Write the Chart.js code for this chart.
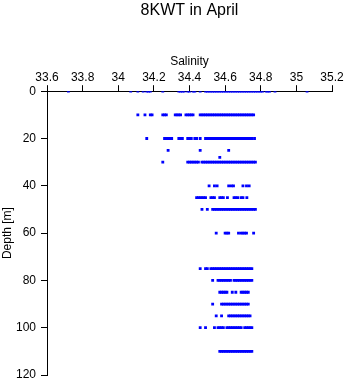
<!DOCTYPE html>
<html>
<head>
<meta charset="utf-8">
<title>8KWT in April</title>
<script src="https://cdn.jsdelivr.net/npm/chart.js@4.4.1/dist/chart.umd.min.js"></script>
<style>
  body { margin: 0; background: #fff; }
  canvas { display: block; }
</style>
</head>
<body>
<canvas id="chart" width="346" height="384"></canvas>
<script>
// depth levels [m] and the salinity readings taken at each of them
const depths = [0, 10, 20, 25, 28, 30, 40, 45, 50, 60, 75, 80, 85, 90, 95, 100, 110];

const sal0 = [33.72, 34.07, 34.11, 34.14, 34.16, 34.17, 34.18, 34.25, 34.34, 34.35, 34.36, 34.37, 34.39, 34.40,
    34.42, 34.43, 34.46, 34.49, 34.50, 34.51, 34.52, 34.53, 34.54, 34.55, 34.56, 34.57, 34.58, 34.59, 34.60,
    34.61, 34.62, 34.63, 34.64, 34.65, 34.66, 34.67, 34.68, 34.69, 34.70, 34.71, 34.72, 34.73, 34.74, 34.75,
    34.76, 34.77, 34.78, 34.79, 34.80, 34.81, 34.83, 34.84, 34.85, 34.88, 35.06];
const sal10 = [34.11, 34.15, 34.18, 34.19, 34.25, 34.26, 34.27, 34.32, 34.33, 34.34, 34.35, 34.38, 34.39, 34.40,
    34.41, 34.42, 34.46, 34.47, 34.48, 34.49, 34.50, 34.51, 34.52, 34.53, 34.54, 34.55, 34.56, 34.57, 34.58,
    34.59, 34.60, 34.61, 34.62, 34.63, 34.64, 34.65, 34.66, 34.67, 34.68, 34.69, 34.70, 34.71, 34.72, 34.73,
    34.74, 34.75, 34.76];
const sal20 = [34.16, 34.26, 34.27, 34.28, 34.29, 34.30, 34.34, 34.35, 34.36, 34.39, 34.40, 34.41, 34.43, 34.44,
    34.46, 34.49, 34.50, 34.51, 34.52, 34.53, 34.54, 34.55, 34.56, 34.57, 34.58, 34.59, 34.60, 34.61, 34.62,
    34.63, 34.64, 34.65, 34.66, 34.67, 34.68, 34.69, 34.70, 34.71, 34.72, 34.73, 34.74, 34.75, 34.765];
const sal25 = [34.28, 34.46, 34.62];
const sal28 = [34.57];
const sal30 = [34.25, 34.39, 34.40, 34.41, 34.42, 34.43, 34.44, 34.45, 34.47, 34.48, 34.49, 34.50, 34.51, 34.52,
    34.53, 34.54, 34.55, 34.56, 34.57, 34.58, 34.59, 34.60, 34.61, 34.62, 34.63, 34.64, 34.65, 34.66, 34.67,
    34.68, 34.69, 34.70, 34.71, 34.72, 34.73, 34.74, 34.75, 34.76, 34.77];
const sal40 = [34.51, 34.54, 34.555, 34.62, 34.635, 34.647, 34.70, 34.72, 34.735];
const sal45 = [34.44, 34.45, 34.46, 34.47, 34.48, 34.49, 34.52, 34.53, 34.54, 34.57, 34.58, 34.59, 34.613, 34.65,
    34.66, 34.671, 34.69, 34.70, 34.722];
const sal50 = [34.47, 34.50, 34.53, 34.54, 34.55, 34.56, 34.57, 34.58, 34.59, 34.60, 34.61, 34.62, 34.63, 34.64,
    34.65, 34.66, 34.67, 34.68, 34.69, 34.70, 34.71, 34.72, 34.73, 34.74, 34.75, 34.76, 34.77];
const sal60 = [34.55, 34.60, 34.61, 34.62, 34.675, 34.69, 34.70, 34.71, 34.72, 34.76];
const sal75 = [34.46, 34.49, 34.50, 34.52, 34.53, 34.54, 34.55, 34.56, 34.57, 34.58, 34.59, 34.60, 34.61, 34.62,
    34.63, 34.64, 34.65, 34.66, 34.67, 34.68, 34.69, 34.70, 34.71, 34.72, 34.73, 34.74, 34.75];
const sal80 = [34.53, 34.56, 34.57, 34.58, 34.59, 34.60, 34.61, 34.62, 34.63, 34.65, 34.66, 34.67, 34.68, 34.69,
    34.70, 34.71, 34.72, 34.73, 34.74, 34.75];
const sal85 = [34.57, 34.58, 34.59, 34.60, 34.61, 34.64, 34.66, 34.69, 34.70, 34.71, 34.72, 34.73];
const sal90 = [34.53, 34.58, 34.59, 34.60, 34.61, 34.62, 34.63, 34.64, 34.65, 34.66, 34.67, 34.68, 34.69, 34.70,
    34.71, 34.72, 34.73];
const sal95 = [34.55, 34.58, 34.62, 34.63, 34.64, 34.65, 34.66, 34.67, 34.68, 34.69, 34.70, 34.71, 34.72, 34.73,
    34.74];
const sal100 = [34.46, 34.49, 34.54, 34.56, 34.57, 34.58, 34.59, 34.61, 34.62, 34.63, 34.64, 34.65, 34.66, 34.67,
    34.68, 34.69, 34.71, 34.72, 34.73, 34.74, 34.75];
const sal110 = [34.57, 34.58, 34.59, 34.60, 34.61, 34.62, 34.63, 34.64, 34.65, 34.66, 34.67, 34.68, 34.69, 34.70,
    34.71, 34.72, 34.73, 34.74, 34.75];

const salinityRows = [sal0, sal10, sal20, sal25, sal28, sal30, sal40, sal45, sal50, sal60,
    sal75, sal80, sal85, sal90, sal95, sal100, sal110];

let points = [];
for (let i = 0; i < depths.length; i++) {
    for (const s of salinityRows[i]) {
        points.push({ x: s, y: depths[i] });
    }
}

const font = { family: '"Liberation Sans", Arial, sans-serif', size: 12 };

const ctx = document.getElementById('chart').getContext('2d');
const myChart = new Chart(ctx, {
    type: 'scatter',
    data: {
        datasets: [{
            label: 'Salinity',
            data: points,
            pointStyle: 'rect',
            pointRadius: 2,
            pointBorderWidth: 0,
            pointBackgroundColor: '#0000ff',
            showLine: false
        }]
    },
    options: {
        responsive: false,
        animation: false,
        layout: {
            padding: { left: 0, top: 0, right: 14, bottom: 9 }
        },
        plugins: {
            legend: { display: false },
            tooltip: { enabled: false },
            title: {
                display: true,
                text: '8KWT in April',
                fullSize: false,
                color: '#000',
                font: { family: font.family, size: 16, weight: 'normal' },
                padding: { top: 1, bottom: 0 }
            }
        },
        scales: {
            x: {
                type: 'linear',
                position: 'top',
                min: 33.6,
                max: 35.2,
                afterFit: (scale) => {
                    scale.height = 71;
                    scale.paddingLeft = 0;
                    scale.paddingRight = 0;
                },
                ticks: {
                    stepSize: 0.2,
                    color: '#000',
                    font: font,
                    padding: 0,
                    maxRotation: 0,
                    callback: (v) => String(Math.round(v * 10) / 10)
                },
                grid: {
                    drawOnChartArea: false,
                    tickLength: 6,
                    tickColor: '#000'
                },
                border: { color: '#000', width: 1 },
                title: {
                    display: true,
                    text: 'Salinity',
                    color: '#000',
                    font: font,
                    padding: { top: 34, bottom: 0 }
                }
            },
            y: {
                type: 'linear',
                reverse: true,
                min: 0,
                max: 120,
                afterFit: (scale) => {
                    scale.width = 47;
                    scale.paddingTop = 0;
                    scale.paddingBottom = 0;
                },
                ticks: {
                    stepSize: 20,
                    color: '#000',
                    font: font,
                    padding: 5
                },
                grid: {
                    drawOnChartArea: false,
                    tickLength: 6,
                    tickColor: '#000'
                },
                border: { color: '#000', width: 1 },
                title: {
                    display: true,
                    text: 'Depth [m]',
                    color: '#000',
                    font: font,
                    padding: { top: 0, bottom: 0 }
                }
            }
        }
    }
});
</script>
</body>
</html>
